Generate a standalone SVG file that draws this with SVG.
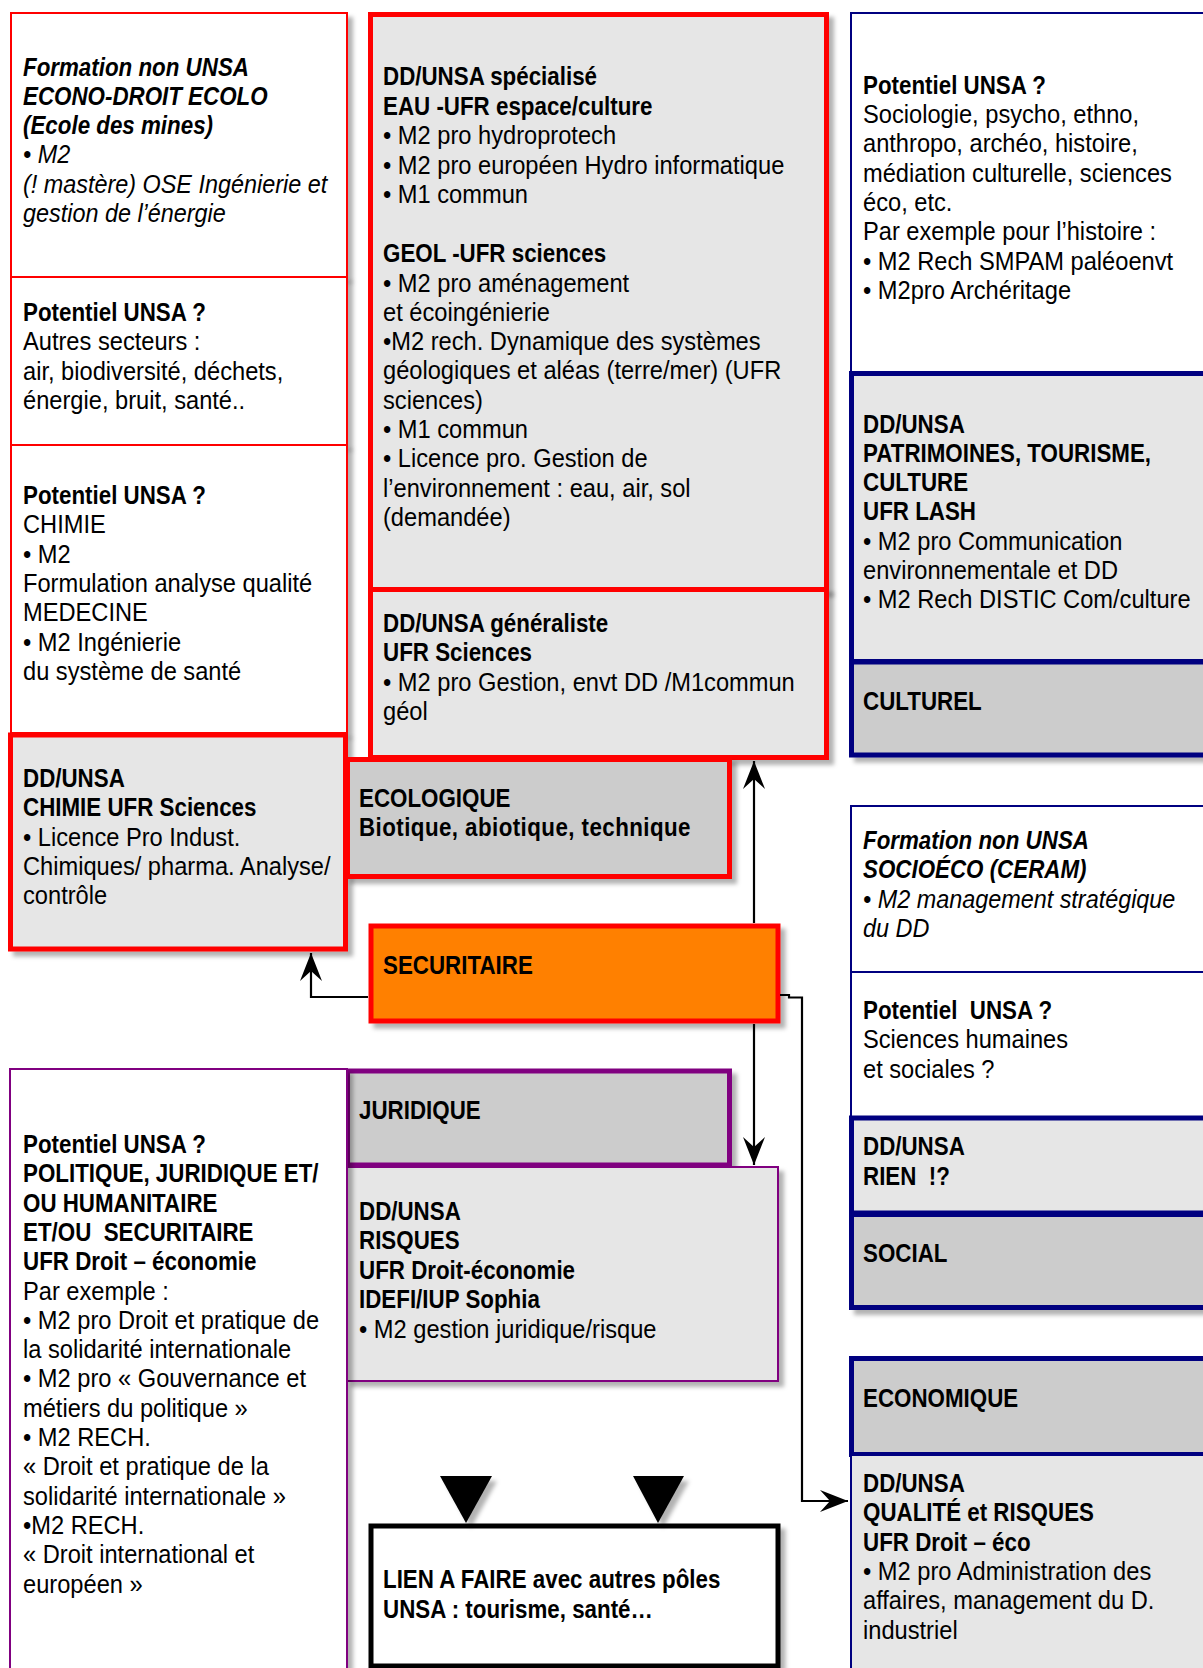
<svg xmlns="http://www.w3.org/2000/svg" width="1203" height="1668" viewBox="0 0 1203 1668">
<style>
text { font-family: "Liberation Sans", Arial, sans-serif; font-size: 26px; fill: #000; }
.b { font-weight: bold; }
.i { font-style: italic; }
.bi { font-weight: bold; font-style: italic; }
.sp { letter-spacing: 0.5px; }
.rt { fill: #fff; stroke: #ff0000; stroke-width: 2; }
.rT { fill: #e6e6e6; stroke: #ff0000; stroke-width: 5; }
.rC { fill: #cccccc; stroke: #ff0000; stroke-width: 5; }
.nt { fill: #fff; stroke: #000080; stroke-width: 2; }
.nL { fill: #e6e6e6; stroke: #000080; stroke-width: 5; }
.nC { fill: #cccccc; stroke: #000080; stroke-width: 5; }
.nl { fill: #e6e6e6; stroke: #000080; stroke-width: 2; }
.pt { fill: #fff; stroke: #800080; stroke-width: 2; }
.pC { fill: #cccccc; stroke: #800080; stroke-width: 5; }
.pl { fill: #e6e6e6; stroke: #800080; stroke-width: 2; }
.sh { filter: url(#shadow); }
.con { fill: none; stroke: #000; stroke-width: 2.2; }
</style>
<defs>
<filter id="shadow" x="-10%" y="-10%" width="130%" height="130%">
<feDropShadow dx="5" dy="5" stdDeviation="2" flood-color="#000" flood-opacity="0.3"/>
</filter>
<marker id="arr" viewBox="-30 -12 32 24" markerWidth="32" markerHeight="24" refX="0" refY="0" orient="auto" markerUnits="userSpaceOnUse">
<path d="M0,0 L-28,-11 L-18,0 L-28,11 Z" fill="#000"/>
</marker>
</defs>
<rect width="1203" height="1668" fill="#fff"/>

<!-- Left column -->
<g id="formation-econo">
<rect class="rt sh" x="11" y="13" width="336" height="264"/>
<text transform="translate(23 75.5) scale(.86 1)" class="bi">Formation non UNSA</text>
<text transform="translate(23 104.8) scale(.86 1)" class="bi">ECONO-DROIT ECOLO</text>
<text transform="translate(23 134) scale(.86 1)" class="bi">(Ecole des mines)</text>
<text transform="translate(23 163.4) scale(.9 1)" class="i">• M2</text>
<text transform="translate(23 192.7) scale(.9 1)" class="i">(! mastère) OSE Ingénierie et</text>
<text transform="translate(23 222) scale(.9 1)" class="i">gestion de l’énergie</text>
</g>
<g id="potentiel-autres">
<rect class="rt sh" x="11" y="277" width="336" height="168"/>
<text transform="translate(23 321) scale(.86 1)" class="b">Potentiel UNSA ?</text>
<text transform="translate(23 350.3) scale(.91 1)">Autres secteurs :</text>
<text transform="translate(23 379.6) scale(.91 1)">air, biodiversité, déchets,</text>
<text transform="translate(23 408.9) scale(.91 1)">énergie, bruit, santé..</text>
</g>
<g id="potentiel-chimie">
<rect class="rt sh" x="11" y="445" width="336" height="288"/>
<text transform="translate(23 504) scale(.86 1)" class="b">Potentiel UNSA ?</text>
<text transform="translate(23 533.3) scale(.91 1)">CHIMIE</text>
<text transform="translate(23 562.6) scale(.91 1)">• M2</text>
<text transform="translate(23 591.9) scale(.91 1)">Formulation analyse qualité</text>
<text transform="translate(23 621.2) scale(.91 1)">MEDECINE</text>
<text transform="translate(23 650.5) scale(.91 1)">• M2 Ingénierie</text>
<text transform="translate(23 679.8) scale(.91 1)">du système de santé</text>
</g>
<g id="dd-chimie">
<rect class="rT sh" x="10.5" y="735" width="335" height="214"/>
<text transform="translate(23 787) scale(.86 1)" class="b">DD/UNSA</text>
<text transform="translate(23 816.3) scale(.86 1)" class="b">CHIMIE UFR Sciences</text>
<text transform="translate(23 845.6) scale(.91 1)">• Licence Pro Indust.</text>
<text transform="translate(23 874.9) scale(.91 1)">Chimiques/ pharma. Analyse/</text>
<text transform="translate(23 904.2) scale(.91 1)">contrôle</text>
</g>

<!-- Middle column -->
<g id="dd-specialise">
<rect class="rT sh" x="370.5" y="14.5" width="456" height="575"/>
<text transform="translate(383 85) scale(.86 1)" class="b">DD/UNSA spécialisé</text>
<text transform="translate(383 114.5) scale(.86 1)" class="b">EAU -UFR espace/culture</text>
<text transform="translate(383 144) scale(.91 1)">• M2 pro hydroprotech</text>
<text transform="translate(383 173.5) scale(.91 1)">• M2 pro européen Hydro informatique</text>
<text transform="translate(383 203) scale(.91 1)">• M1 commun</text>
<text transform="translate(383 262) scale(.86 1)" class="b">GEOL -UFR sciences</text>
<text transform="translate(383 291.5) scale(.91 1)">• M2 pro aménagement</text>
<text transform="translate(383 320.8) scale(.91 1)">et écoingénierie</text>
<text transform="translate(383 350.1) scale(.91 1)">•M2 rech. Dynamique des systèmes</text>
<text transform="translate(383 379.4) scale(.91 1)">géologiques et aléas (terre/mer) (UFR</text>
<text transform="translate(383 408.7) scale(.91 1)">sciences)</text>
<text transform="translate(383 438) scale(.91 1)">• M1 commun</text>
<text transform="translate(383 467.3) scale(.91 1)">• Licence pro. Gestion de</text>
<text transform="translate(383 496.6) scale(.91 1)">l’environnement : eau, air, sol</text>
<text transform="translate(383 525.9) scale(.91 1)">(demandée)</text>
</g>
<g id="dd-generaliste">
<rect class="rT sh" x="370.5" y="589.5" width="456" height="168"/>
<text transform="translate(383 631.7) scale(.86 1)" class="b">DD/UNSA généraliste</text>
<text transform="translate(383 661) scale(.86 1)" class="b">UFR Sciences</text>
<text transform="translate(383 690.5) scale(.91 1)">• M2 pro Gestion, envt DD /M1commun</text>
<text transform="translate(383 720) scale(.91 1)">géol</text>
</g>
<g id="ecologique">
<rect class="rC sh" x="347.5" y="759.5" width="382" height="117"/>
<text transform="translate(359 806.7) scale(.86 1)" class="b">ECOLOGIQUE</text>
<text transform="translate(359 836) scale(.86 1)" class="b sp">Biotique, abiotique, technique</text>
</g>
<g id="securitaire">
<rect class="sh" x="371" y="926" width="407" height="95" fill="#ff8000" stroke="#ff0000" stroke-width="5"/>
<text transform="translate(383 974) scale(.86 1)" class="b">SECURITAIRE</text>
</g>
<g id="juridique">
<rect class="pC sh" x="347.5" y="1071" width="382" height="94"/>
<text transform="translate(359 1119) scale(.86 1)" class="b">JURIDIQUE</text>
</g>
<g id="dd-risques">
<rect class="pl sh" x="347" y="1167" width="431" height="214"/>
<text transform="translate(359 1219.5) scale(.86 1)" class="b">DD/UNSA</text>
<text transform="translate(359 1249) scale(.86 1)" class="b">RISQUES</text>
<text transform="translate(359 1278.5) scale(.86 1)" class="b">UFR Droit-économie</text>
<text transform="translate(359 1308) scale(.86 1)" class="b">IDEFI/IUP Sophia</text>
<text transform="translate(359 1337.5) scale(.91 1)">• M2 gestion juridique/risque</text>
</g>
<g id="potentiel-politique">
<rect class="pt sh" x="10" y="1069" width="337" height="640"/>
<text transform="translate(23 1153) scale(.86 1)" class="b">Potentiel UNSA ?</text>
<text transform="translate(23 1182.3) scale(.86 1)" class="b">POLITIQUE, JURIDIQUE ET/</text>
<text transform="translate(23 1211.6) scale(.86 1)" class="b">OU HUMANITAIRE</text>
<text transform="translate(23 1240.9) scale(.86 1)" class="b">ET/OU&#160; SECURITAIRE</text>
<text transform="translate(23 1270.2) scale(.86 1)" class="b">UFR Droit – économie</text>
<text transform="translate(23 1299.5) scale(.91 1)">Par exemple :</text>
<text transform="translate(23 1328.8) scale(.91 1)">• M2 pro Droit et pratique de</text>
<text transform="translate(23 1358.1) scale(.91 1)">la solidarité internationale</text>
<text transform="translate(23 1387.4) scale(.91 1)">• M2 pro « Gouvernance et</text>
<text transform="translate(23 1416.7) scale(.91 1)">métiers du politique »</text>
<text transform="translate(23 1446) scale(.91 1)">• M2 RECH.</text>
<text transform="translate(23 1475.3) scale(.91 1)">« Droit et pratique de la</text>
<text transform="translate(23 1504.6) scale(.91 1)">solidarité internationale »</text>
<text transform="translate(23 1533.9) scale(.91 1)">•M2 RECH.</text>
<text transform="translate(23 1563.2) scale(.91 1)">« Droit international et</text>
<text transform="translate(23 1592.5) scale(.91 1)">européen »</text>
</g>
<g id="lien">
<rect class="sh" x="371" y="1526" width="407" height="140" fill="#fff" stroke="#000" stroke-width="5"/>
<text transform="translate(383 1588) scale(.86 1)" class="b">LIEN A FAIRE avec autres pôles</text>
<text transform="translate(383 1617.5) scale(.86 1)" class="b">UNSA : tourisme, santé…</text>
</g>
<g id="lien-markers">
<polygon class="sh" points="440,1476 492,1476 466,1523" fill="#000"/>
<polygon class="sh" points="633,1476 684,1476 658,1523" fill="#000"/>
</g>

<!-- Right column -->
<g id="potentiel-socio">
<rect class="nt sh" x="851" y="13" width="360" height="360"/>
<text transform="translate(863 94) scale(.86 1)" class="b">Potentiel UNSA ?</text>
<text transform="translate(863 123) scale(.91 1)">Sociologie, psycho, ethno,</text>
<text transform="translate(863 152.3) scale(.91 1)">anthropo, archéo, histoire,</text>
<text transform="translate(863 181.6) scale(.91 1)">médiation culturelle, sciences</text>
<text transform="translate(863 210.9) scale(.91 1)">éco, etc.</text>
<text transform="translate(863 240.2) scale(.91 1)">Par exemple pour l’histoire :</text>
<text transform="translate(863 269.5) scale(.91 1)">• M2 Rech SMPAM paléoenvt</text>
<text transform="translate(863 298.8) scale(.91 1)">• M2pro Archéritage</text>
</g>
<g id="dd-patrimoines">
<rect class="nL sh" x="851.5" y="373.5" width="360" height="288"/>
<text transform="translate(863 432.5) scale(.86 1)" class="b">DD/UNSA</text>
<text transform="translate(863 461.8) scale(.86 1)" class="b">PATRIMOINES, TOURISME,</text>
<text transform="translate(863 491.1) scale(.86 1)" class="b">CULTURE</text>
<text transform="translate(863 520.4) scale(.86 1)" class="b">UFR LASH</text>
<text transform="translate(863 549.7) scale(.91 1)">• M2 pro Communication</text>
<text transform="translate(863 579) scale(.91 1)">environnementale et DD</text>
<text transform="translate(863 608.3) scale(.91 1)">• M2 Rech DISTIC Com/culture</text>
</g>
<g id="culturel">
<rect class="nC sh" x="851.5" y="662" width="360" height="93"/>
<text transform="translate(863 710) scale(.86 1)" class="b">CULTUREL</text>
</g>
<g id="formation-socioeco">
<rect class="nt sh" x="851" y="806" width="360" height="166"/>
<text transform="translate(863 849) scale(.86 1)" class="bi">Formation non UNSA</text>
<text transform="translate(863 878.3) scale(.86 1)" class="bi">SOCIOÉCO (CERAM)</text>
<text transform="translate(863 907.6) scale(.9 1)" class="i">• M2 management stratégique</text>
<text transform="translate(863 936.9) scale(.9 1)" class="i">du DD</text>
</g>
<g id="potentiel-shs">
<rect class="nt sh" x="851" y="972" width="360" height="145"/>
<text transform="translate(863 1019) scale(.86 1)" class="b">Potentiel&#160; UNSA ?</text>
<text transform="translate(863 1048.3) scale(.91 1)">Sciences humaines</text>
<text transform="translate(863 1077.6) scale(.91 1)">et sociales ?</text>
</g>
<g id="dd-rien">
<rect class="nL sh" x="851.5" y="1118" width="360" height="95"/>
<text transform="translate(863 1155) scale(.86 1)" class="b">DD/UNSA</text>
<text transform="translate(863 1184.5) scale(.86 1)" class="b">RIEN&#160; !?</text>
</g>
<g id="social">
<rect class="nC sh" x="851.5" y="1214.5" width="360" height="93"/>
<text transform="translate(863 1262) scale(.86 1)" class="b">SOCIAL</text>
</g>
<g id="economique">
<rect class="nC sh" x="851.5" y="1358.5" width="360" height="96"/>
<text transform="translate(863 1407) scale(.86 1)" class="b">ECONOMIQUE</text>
</g>
<g id="dd-qualite">
<rect class="nl sh" x="851" y="1455" width="360" height="240"/>
<text transform="translate(863 1492) scale(.86 1)" class="b">DD/UNSA</text>
<text transform="translate(863 1521.3) scale(.86 1)" class="b">QUALITÉ et RISQUES</text>
<text transform="translate(863 1550.6) scale(.86 1)" class="b">UFR Droit – éco</text>
<text transform="translate(863 1579.9) scale(.91 1)">• M2 pro Administration des</text>
<text transform="translate(863 1609.2) scale(.91 1)">affaires, management du D.</text>
<text transform="translate(863 1638.5) scale(.91 1)">industriel</text>
</g>

<!-- Connectors -->
<g id="connectors">
<path class="con" d="M754,923 V761" marker-end="url(#arr)"/>
<path class="con" d="M754,1024 V1165" marker-end="url(#arr)"/>
<path class="con" d="M368,997 H311 V953" marker-end="url(#arr)"/>
<path class="con" d="M780,995 H789 V997.5 H802 V1501 H848" marker-end="url(#arr)"/>
</g>
</svg>
